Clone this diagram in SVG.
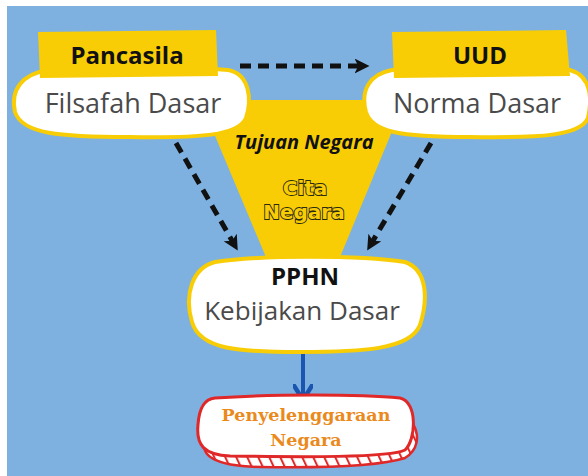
<svg xmlns="http://www.w3.org/2000/svg" width="588" height="476" viewBox="0 0 588 476">
<defs>
<style>
.bg{fill:#7eb1e0}
.yel{fill:#f8cd06}
.cloud{fill:#ffffff;stroke:#f8cd06;stroke-width:4}
.title{font-family:"Open Sans","DejaVu Sans",sans-serif;font-weight:bold;fill:#111;text-anchor:middle}
.sub{font-family:"Open Sans","DejaVu Sans",sans-serif;fill:#4a4a4a;text-anchor:middle}
.dash{fill:none;stroke:#111;stroke-width:5;stroke-dasharray:11 7}
.cita{font-family:"DejaVu Sans",sans-serif;font-weight:bold;fill:#f8cd06;stroke:#2a2a10;stroke-width:1.8;paint-order:stroke;text-anchor:middle}
.peny{font-family:"DejaVu Serif","Liberation Serif",serif;font-weight:bold;fill:#ea8a1c;text-anchor:middle}
</style>
<marker id="ah" viewBox="0 0 10 10" refX="5" refY="5" markerWidth="3" markerHeight="3" orient="auto" markerUnits="strokeWidth">
<path d="M0,0 L10,5 L0,10 L2.5,5 Z" fill="#111"/>
</marker>
<marker id="ahb" viewBox="0 0 10 10" refX="6" refY="5" markerWidth="5" markerHeight="5" orient="auto" markerUnits="strokeWidth">
<path d="M0,0 L8,5 L0,10" fill="none" stroke="#1a56b0" stroke-width="2.2"/>
</marker>
<pattern id="stripe" width="11" height="20" patternUnits="userSpaceOnUse" patternTransform="skewX(25)">
<rect width="11" height="20" fill="#fff"/>
<rect width="2.2" height="20" fill="#e02828"/>
</pattern>
</defs>
<rect x="0" y="0" width="588" height="476" fill="#ffffff"/>
<rect class="bg" x="7" y="6" width="581" height="470"/>

<g id="triangle">
<path class="yel" d="M200,100 L405,100 L338,262 L268,262 Z"/>
<text x="304" y="149" font-family="'Open Sans','DejaVu Sans',sans-serif" font-weight="bold" font-style="italic" font-size="20" fill="#111" text-anchor="middle">Tujuan Negara</text>
<text class="cita" x="305" y="195" font-size="20">Cita</text>
<text class="cita" x="304" y="219" font-size="20">Negara</text>
</g>

<g id="connectors">
<line class="dash" x1="240" y1="66" x2="362" y2="66" marker-end="url(#ah)"/>
<line class="dash" x1="176" y1="143" x2="234" y2="244" marker-end="url(#ah)"/>
<line class="dash" x1="431" y1="143" x2="371" y2="244" marker-end="url(#ah)"/>
<line x1="303" y1="352" x2="303" y2="396" stroke="#1a56b0" stroke-width="4" marker-end="url(#ahb)"/>
</g>

<g id="pancasila">
<path class="cloud" d="M48,70 C90,64 180,66 228,70 C250,74 252,100 246,118 C238,136 200,138 130,137 C60,137 22,134 15,112 C10,90 22,74 48,70 Z"/>
<path class="yel" d="M38,32 L216,30 L218,76 L40,78 Z"/>
<text class="title" x="127" y="64" font-size="24">Pancasila</text>
<text class="sub" x="133" y="113" font-size="27">Filsafah Dasar</text>
</g>

<g id="uud">
<path class="cloud" d="M392,70 C440,64 530,64 570,70 C592,76 592,100 588,118 C580,136 540,138 470,137 C400,137 372,132 366,112 C360,90 370,74 392,70 Z"/>
<path class="yel" d="M392,32 L566,30 L570,76 L394,78 Z"/>
<text class="title" x="480" y="64" font-size="24">UUD</text>
<text class="sub" x="477" y="113" font-size="27">Norma Dasar</text>
</g>

<g id="pphn">
<path class="cloud" d="M215,262 C260,255 360,255 405,262 C428,270 428,300 420,325 C410,350 360,352 300,352 C240,352 200,350 192,322 C184,295 192,268 215,262 Z"/>
<text class="title" x="305" y="285" font-size="24">PPHN</text>
<text class="sub" x="302" y="320" font-size="26">Kebijakan Dasar</text>
</g>

<g id="penyelenggaraan">
<path d="M205,440 C200,456 215,466 260,467 C320,468 380,466 405,458 C418,450 420,436 413,424 L405,440 Z" fill="url(#stripe)" stroke="#e02828" stroke-width="2.5"/>
<path d="M215,398 C270,394 360,394 400,398 C418,402 416,440 405,450 C390,458 300,457 230,456 C204,455 196,445 198,425 C199,408 204,399 215,398 Z" fill="#fff" stroke="#e02828" stroke-width="3"/>
<text class="peny" x="306" y="421" font-size="17.5">Penyelenggaraan</text>
<text class="peny" x="306" y="446" font-size="17.5">Negara</text>
</g>
</svg>
